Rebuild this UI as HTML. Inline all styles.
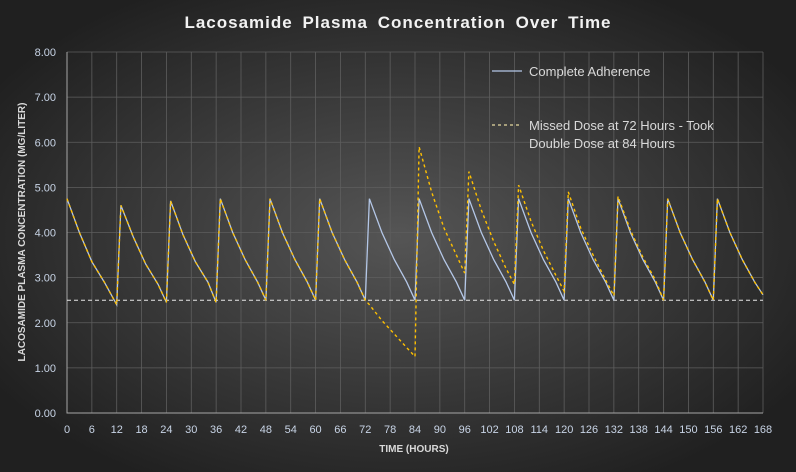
<!DOCTYPE html>
<html><head><meta charset="utf-8"><style>
body{margin:0;width:796px;height:472px;overflow:hidden;background:#2a2a2a}
svg{display:block;font-family:"Liberation Sans",sans-serif}
</style></head><body>
<svg width="796" height="472">
<defs><radialGradient id="bg" cx="50%" cy="50%" r="60%"><stop offset="0" stop-color="#555"/><stop offset="1" stop-color="#202020"/></radialGradient></defs>
<rect width="796" height="472" fill="url(#bg)"/>
<text x="398" y="28" text-anchor="middle" fill="#f2f2f2" font-size="17" font-weight="bold" letter-spacing="1" word-spacing="4">Lacosamide Plasma Concentration Over Time</text>
<g id="grid"></g>
<g id="axes"></g>
<g id="series"></g>
<text x="414" y="452" text-anchor="middle" fill="#d9d9d9" font-size="10" font-weight="bold">TIME (HOURS)</text>
<text transform="translate(25,232) rotate(-90)" text-anchor="middle" fill="#d9d9d9" font-size="10" font-weight="bold">LACOSAMIDE PLASMA CONCENTRATION (MG/LITER)</text>
<g>
<g><line x1="492" y1="71" x2="522" y2="71" stroke="#b4c7e7" stroke-width="1.3"/><text x="529" y="76" fill="#d9d9d9" font-size="13">Complete Adherence</text></g>
<g><line x1="492" y1="125" x2="522" y2="125" stroke="#e6d9a0" stroke-width="1.3" stroke-dasharray="3,3"/><text x="529" y="130" fill="#d9d9d9" font-size="13">Missed Dose at 72 Hours - Took</text><text x="529" y="148" fill="#d9d9d9" font-size="13">Double Dose at 84 Hours</text></g>
</g>
</svg>
<script>
const times=[0,3,6,9,12,13,16,19,22,24,25,28,31,34,36,37,40,43,46,48,49,52,55,58,60,61,64,67,70,72,73,76,79,82,84,85,88,91,94,96,97,100,103,106,108,109,112,115,118,120,121,124,127,130,132,133,136,139,142,144,145,148,151,154,156,157,160,163,166,168];
const adherence=[4.75,4.0,3.35,2.9,2.4, 4.6,3.9,3.3,2.85,2.45, 4.7,3.95,3.35,2.9,2.45, 4.75,4.0,3.4,2.9,2.5, 4.75,4.0,3.4,2.9,2.5, 4.75,4.0,3.4,2.9,2.5, 4.75,4.0,3.4,2.9,2.5, 4.75,4.0,3.4,2.9,2.5, 4.75,4.0,3.4,2.9,2.5, 4.75,4.0,3.4,2.9,2.5, 4.75,4.0,3.4,2.9,2.5, 4.75,4.0,3.4,2.9,2.5, 4.75,4.0,3.4,2.9,2.5, 4.75,4.0,3.4,2.9,2.62];
const missed=[4.75,4.0,3.35,2.9,2.4, 4.6,3.9,3.3,2.85,2.45, 4.7,3.95,3.35,2.9,2.45, 4.75,4.0,3.4,2.9,2.5, 4.75,4.0,3.4,2.9,2.5, 4.75,4.0,3.4,2.9,2.5, 2.4,2.05,1.75,1.45,1.25, 5.9,4.9,4.1,3.5,3.1, 5.35,4.5,3.8,3.2,2.85, 5.05,4.25,3.6,3.05,2.7, 4.9,4.1,3.5,2.95,2.6, 4.8,4.05,3.45,2.95,2.5, 4.75,4.0,3.4,2.9,2.5, 4.75,4.0,3.4,2.9,2.62];
const xTicks=[0,6,12,18,24,30,36,42,48,54,60,66,72,78,84,90,96,102,108,114,120,126,132,138,144,150,156,162,168];
const yTicks=[0,1,2,3,4,5,6,7,8];
const threshold=[2.5];
const NS="http://www.w3.org/2000/svg";
const X0=67,X1=763,Y0=413,Y1=52;
function xs(t){return X0+(t/168)*(X1-X0);}
function ys(v){return Y0-(v/8)*(Y0-Y1);}
function mk(tag,attrs,parent){const e=document.createElementNS(NS,tag);for(const k in attrs)e.setAttribute(k,attrs[k]);parent.appendChild(e);return e;}
const grid=document.getElementById('grid'),axes=document.getElementById('axes'),series=document.getElementById('series');
xTicks.forEach(t=>{
 const l=mk('line',{x1:xs(t),x2:xs(t),y1:Y1,y2:Y0,stroke:'#5e5e5e','stroke-width':0.8},grid);
 
 
 const tx=mk('text',{x:xs(t),y:433,'text-anchor':'middle',fill:'#c8d4e6','font-size':11},axes);
 tx.textContent=t;
 
 
});
yTicks.forEach(v=>{
 const l=mk('line',{x1:X0,x2:X1,y1:ys(v),y2:ys(v),stroke:'#5e5e5e','stroke-width':0.8},grid);
 
 
 const tx=mk('text',{x:56,y:ys(v)+4,'text-anchor':'end',fill:'#c8d4e6','font-size':11},axes);
 tx.textContent=v.toFixed(2);
 
 
});
const ax=mk('path',{d:`M${X0},${Y1}V${Y0}H${X1}`,fill:'none',stroke:'#a6a6a6','stroke-width':1},axes);


const th=mk('line',{x1:X0,x2:X1,y1:ys(threshold[0]),y2:ys(threshold[0]),stroke:'#e8e8e8','stroke-width':1,'stroke-dasharray':'4,3'},series);


function pts(vals){return times.map((t,i)=>xs(t).toFixed(1)+','+ys(vals[i]).toFixed(1)).join(' ');}
const la=mk('polyline',{points:pts(adherence),fill:'none',stroke:'#b4c7e7','stroke-width':1.3},series);


const lm=mk('polyline',{points:pts(missed),fill:'none',stroke:'#ffc000','stroke-width':1.4,'stroke-dasharray':'3,3'},series);


</script>
</body></html>
